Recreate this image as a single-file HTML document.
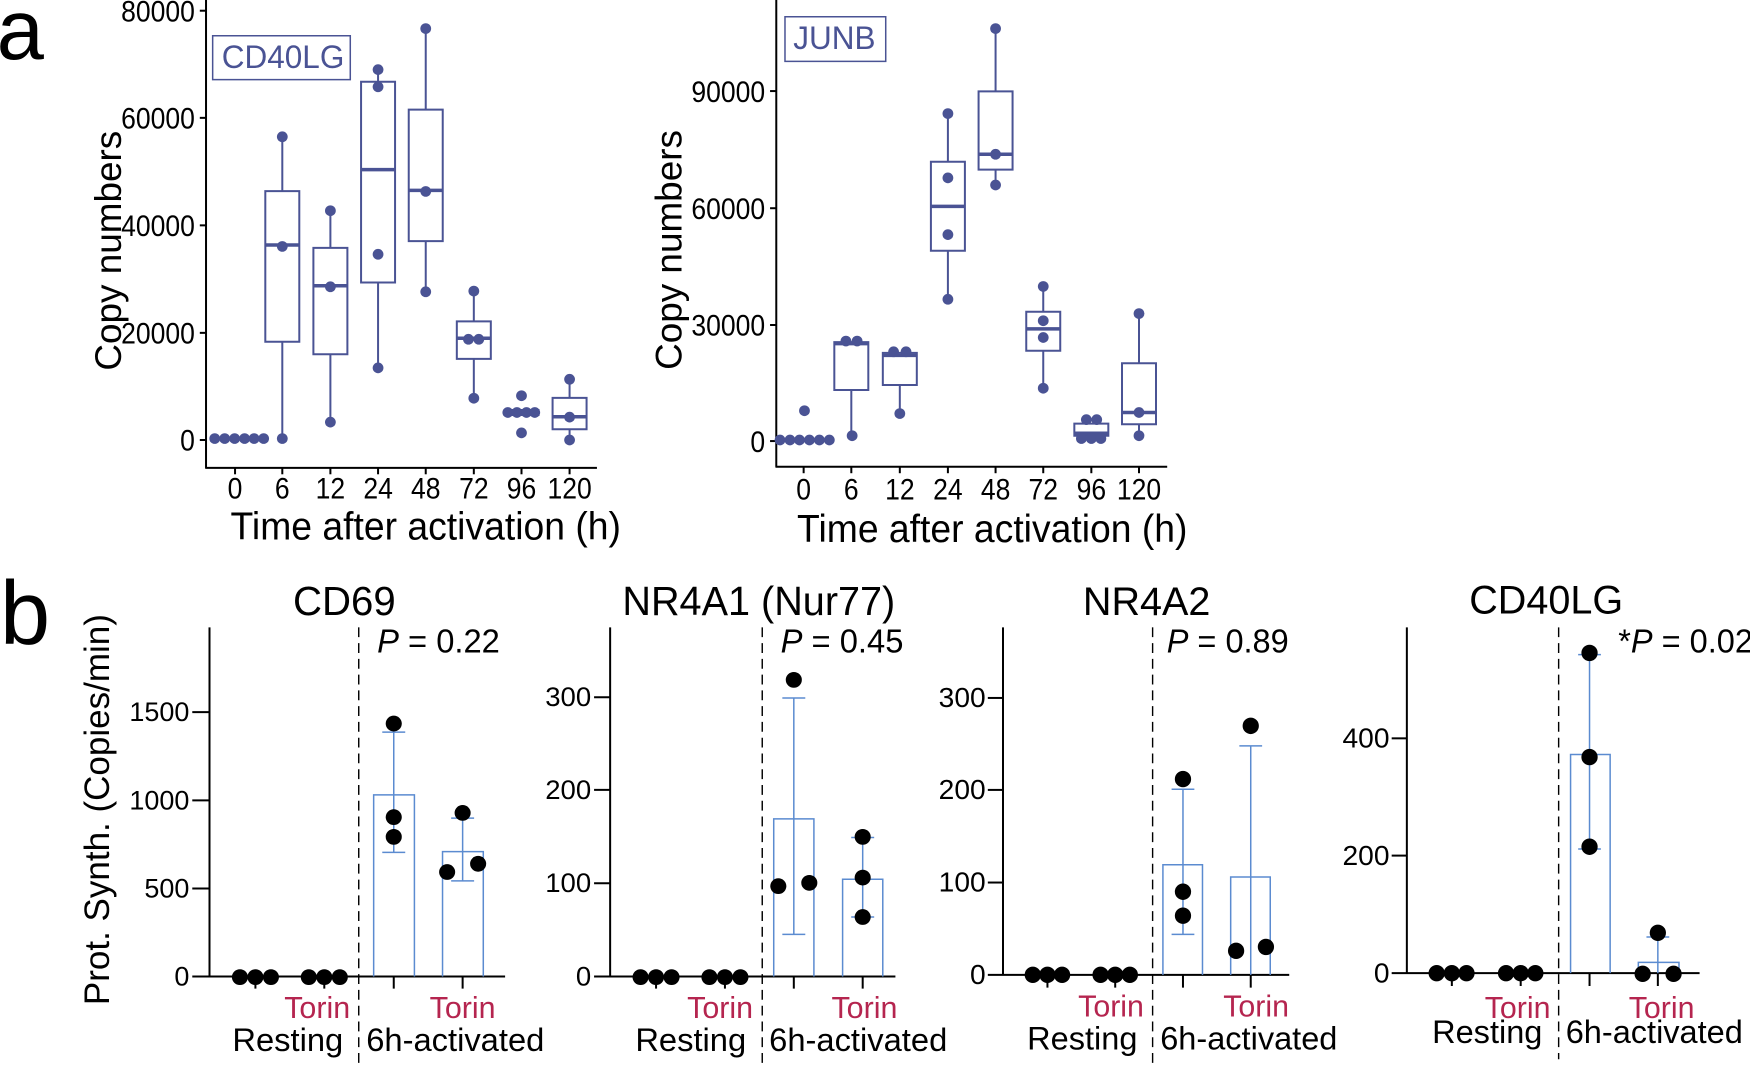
<!DOCTYPE html>
<html><head><meta charset="utf-8"><style>
html,body{margin:0;padding:0;background:#fff;}
#c{position:relative;width:1750px;height:1075px;overflow:hidden;}
svg{position:absolute;overflow:visible;font-family:"Liberation Sans",sans-serif;}
.s{vector-effect:non-scaling-stroke;}
</style></head><body><div id="c">

<!-- Panel a left -->
<svg style="left:0;top:0" width="650" height="560" viewBox="0 0 1568 1568" preserveAspectRatio="none">
<text transform="translate(-8 165) scale(1 1.161)" font-size="205">a</text>
<g stroke="#000" fill="none">
<g stroke-width="2" class="s">
<line class="s" x1="497" y1="0" x2="497" y2="1310"/><line class="s" x1="495" y1="1310" x2="1440" y2="1310"/>
<line class="s" x1="482" y1="30" x2="497" y2="30"/><line class="s" x1="482" y1="330" x2="497" y2="330"/><line class="s" x1="482" y1="631" x2="497" y2="631"/><line class="s" x1="482" y1="932" x2="497" y2="932"/><line class="s" x1="482" y1="1232" x2="497" y2="1232"/>
<line class="s" x1="567" y1="1310" x2="567" y2="1328"/><line class="s" x1="681" y1="1310" x2="681" y2="1328"/><line class="s" x1="797" y1="1310" x2="797" y2="1328"/><line class="s" x1="912" y1="1310" x2="912" y2="1328"/><line class="s" x1="1027" y1="1310" x2="1027" y2="1328"/><line class="s" x1="1143" y1="1310" x2="1143" y2="1328"/><line class="s" x1="1258" y1="1310" x2="1258" y2="1328"/><line class="s" x1="1374" y1="1310" x2="1374" y2="1328"/>
</g></g>
<g font-size="64" text-anchor="end">
<text transform="translate(470 60) scale(1 1.28)">80000</text><text transform="translate(470 360) scale(1 1.28)">60000</text><text transform="translate(470 661) scale(1 1.28)">40000</text><text transform="translate(470 962) scale(1 1.28)">20000</text><text transform="translate(470 1262) scale(1 1.28)">0</text>
</g>
<g font-size="64" text-anchor="middle">
<text transform="translate(567 1396) scale(1 1.28)">0</text><text transform="translate(681 1396) scale(1 1.28)">6</text><text transform="translate(797 1396) scale(1 1.28)">12</text><text transform="translate(912 1396) scale(1 1.28)">24</text><text transform="translate(1027 1396) scale(1 1.28)">48</text><text transform="translate(1143 1396) scale(1 1.28)">72</text><text transform="translate(1258 1396) scale(1 1.28)">96</text><text transform="translate(1374 1396) scale(1 1.28)">120</text>
</g>
<text transform="translate(1027 1510) scale(1 1.2)" font-size="90" text-anchor="middle">Time after activation (h)</text>
<text transform="translate(292 702) scale(1 1.161) rotate(-90)" font-size="89" text-anchor="middle">Copy numbers</text>
<rect class="s" x="513" y="100" width="332" height="123" fill="none" stroke="#4a5394" stroke-width="1.5"/>
<text transform="translate(535 190) scale(1 1.2)" font-size="76" fill="#4a5394">CD40LG</text>
<g stroke="#4a5394" stroke-width="2" fill="none">
<rect class="s" x="640" y="535" width="82" height="422"/><line class="s" x1="681" y1="383" x2="681" y2="535"/><line class="s" x1="681" y1="957" x2="681" y2="1228"/>
<rect class="s" x="756" y="694" width="82" height="298"/><line class="s" x1="797" y1="590" x2="797" y2="694"/><line class="s" x1="797" y1="992" x2="797" y2="1182"/>
<rect class="s" x="871" y="229" width="82" height="562"/><line class="s" x1="912" y1="195" x2="912" y2="229"/><line class="s" x1="912" y1="791" x2="912" y2="1030"/>
<rect class="s" x="986" y="307" width="82" height="368"/><line class="s" x1="1027" y1="80" x2="1027" y2="307"/><line class="s" x1="1027" y1="675" x2="1027" y2="817"/>
<rect class="s" x="1102" y="900" width="82" height="105"/><line class="s" x1="1143" y1="815" x2="1143" y2="900"/><line class="s" x1="1143" y1="1005" x2="1143" y2="1115"/>
<rect class="s" x="1217" y="1148" width="82" height="14"/>
<rect class="s" x="1333" y="1114" width="82" height="88"/><line class="s" x1="1374" y1="1062" x2="1374" y2="1114"/><line class="s" x1="1374" y1="1202" x2="1374" y2="1232"/>
</g>
<g stroke="#4a5394" stroke-width="3.5">
<line class="s" x1="640" y1="686" x2="722" y2="686"/><line class="s" x1="756" y1="800" x2="838" y2="800"/><line class="s" x1="871" y1="475" x2="953" y2="475"/><line class="s" x1="986" y1="533" x2="1068" y2="533"/><line class="s" x1="1102" y1="947" x2="1184" y2="947"/><line class="s" x1="1217" y1="1155" x2="1299" y2="1155"/><line class="s" x1="1333" y1="1167" x2="1415" y2="1167"/>
</g>
<g fill="#4a5394">
<ellipse cx="518" cy="1228" rx="13" ry="15"/><ellipse cx="542" cy="1228" rx="13" ry="15"/><ellipse cx="566" cy="1228" rx="13" ry="15"/><ellipse cx="590" cy="1228" rx="13" ry="15"/><ellipse cx="613" cy="1228" rx="13" ry="15"/><ellipse cx="636" cy="1228" rx="13" ry="15"/>
<ellipse cx="681" cy="383" rx="13" ry="15"/><ellipse cx="681" cy="690" rx="13" ry="15"/><ellipse cx="681" cy="1228" rx="13" ry="15"/>
<ellipse cx="797" cy="590" rx="13" ry="15"/><ellipse cx="797" cy="803" rx="13" ry="15"/><ellipse cx="797" cy="1182" rx="13" ry="15"/>
<ellipse cx="912" cy="195" rx="13" ry="15"/><ellipse cx="912" cy="243" rx="13" ry="15"/><ellipse cx="912" cy="712" rx="13" ry="15"/><ellipse cx="912" cy="1030" rx="13" ry="15"/>
<ellipse cx="1027" cy="80" rx="13" ry="15"/><ellipse cx="1027" cy="536" rx="13" ry="15"/><ellipse cx="1027" cy="817" rx="13" ry="15"/>
<ellipse cx="1143" cy="815" rx="13" ry="15"/><ellipse cx="1130" cy="950" rx="13" ry="15"/><ellipse cx="1155" cy="950" rx="13" ry="15"/><ellipse cx="1143" cy="1115" rx="13" ry="15"/>
<ellipse cx="1258" cy="1108" rx="13" ry="15"/><ellipse cx="1225" cy="1155" rx="13" ry="15"/><ellipse cx="1247" cy="1155" rx="13" ry="15"/><ellipse cx="1270" cy="1155" rx="13" ry="15"/><ellipse cx="1290" cy="1155" rx="13" ry="15"/><ellipse cx="1258" cy="1212" rx="13" ry="15"/>
<ellipse cx="1374" cy="1062" rx="13" ry="15"/><ellipse cx="1374" cy="1168" rx="13" ry="15"/><ellipse cx="1374" cy="1232" rx="13" ry="15"/>
</g>
</svg>

<!-- Panel a right (JUNB) -->
<svg style="left:620px;top:0" width="650" height="560" viewBox="0 0 1568 1568" preserveAspectRatio="none">
<g stroke="#000" stroke-width="2" fill="none">
<line class="s" x1="377" y1="0" x2="377" y2="1307"/><line class="s" x1="375" y1="1307" x2="1320" y2="1307"/>
<line class="s" x1="362" y1="255" x2="377" y2="255"/><line class="s" x1="362" y1="583" x2="377" y2="583"/><line class="s" x1="362" y1="910" x2="377" y2="910"/><line class="s" x1="362" y1="1235" x2="377" y2="1235"/>
<line class="s" x1="443" y1="1307" x2="443" y2="1325"/><line class="s" x1="558" y1="1307" x2="558" y2="1325"/><line class="s" x1="675" y1="1307" x2="675" y2="1325"/><line class="s" x1="791" y1="1307" x2="791" y2="1325"/><line class="s" x1="906" y1="1307" x2="906" y2="1325"/><line class="s" x1="1021" y1="1307" x2="1021" y2="1325"/><line class="s" x1="1137" y1="1307" x2="1137" y2="1325"/><line class="s" x1="1252" y1="1307" x2="1252" y2="1325"/>
</g>
<g font-size="64" text-anchor="end">
<text transform="translate(350 285) scale(1 1.28)">90000</text><text transform="translate(350 613) scale(1 1.28)">60000</text><text transform="translate(350 940) scale(1 1.28)">30000</text><text transform="translate(350 1265) scale(1 1.28)">0</text>
</g>
<g font-size="64" text-anchor="middle">
<text transform="translate(443 1398) scale(1 1.28)">0</text><text transform="translate(558 1398) scale(1 1.28)">6</text><text transform="translate(675 1398) scale(1 1.28)">12</text><text transform="translate(791 1398) scale(1 1.28)">24</text><text transform="translate(906 1398) scale(1 1.28)">48</text><text transform="translate(1021 1398) scale(1 1.28)">72</text><text transform="translate(1137 1398) scale(1 1.28)">96</text><text transform="translate(1252 1398) scale(1 1.28)">120</text>
</g>
<text transform="translate(898 1518) scale(1 1.2)" font-size="90" text-anchor="middle">Time after activation (h)</text>
<text transform="translate(148 700) scale(1 1.161) rotate(-90)" font-size="89" text-anchor="middle">Copy numbers</text>
<rect class="s" x="398" y="47" width="243" height="125" fill="none" stroke="#4a5394" stroke-width="1.5"/>
<text transform="translate(418 137) scale(1 1.2)" font-size="76" fill="#4a5394">JUNB</text>
<g stroke="#4a5394" stroke-width="2" fill="none">
<rect class="s" x="517" y="958" width="82" height="134"/><line class="s" x1="558" y1="1092" x2="558" y2="1220"/>
<rect class="s" x="634" y="988" width="82" height="90"/><line class="s" x1="675" y1="1078" x2="675" y2="1158"/>
<rect class="s" x="750" y="453" width="82" height="249"/><line class="s" x1="791" y1="318" x2="791" y2="453"/><line class="s" x1="791" y1="702" x2="791" y2="838"/>
<rect class="s" x="865" y="256" width="82" height="219"/><line class="s" x1="906" y1="80" x2="906" y2="256"/><line class="s" x1="906" y1="475" x2="906" y2="518"/>
<rect class="s" x="980" y="873" width="82" height="109"/><line class="s" x1="1021" y1="802" x2="1021" y2="873"/><line class="s" x1="1021" y1="982" x2="1021" y2="1087"/>
<rect class="s" x="1096" y="1186" width="82" height="34"/>
<rect class="s" x="1211" y="1017" width="82" height="171"/><line class="s" x1="1252" y1="878" x2="1252" y2="1017"/><line class="s" x1="1252" y1="1188" x2="1252" y2="1220"/>
</g>
<g stroke="#4a5394" stroke-width="3.5">
<line class="s" x1="517" y1="962" x2="599" y2="962"/><line class="s" x1="634" y1="995" x2="716" y2="995"/><line class="s" x1="750" y1="578" x2="832" y2="578"/><line class="s" x1="865" y1="432" x2="947" y2="432"/><line class="s" x1="980" y1="921" x2="1062" y2="921"/><line class="s" x1="1096" y1="1213" x2="1178" y2="1213"/><line class="s" x1="1211" y1="1155" x2="1293" y2="1155"/>
</g>
<g fill="#4a5394">
<ellipse cx="386" cy="1232" rx="13" ry="15"/><ellipse cx="410" cy="1232" rx="13" ry="15"/><ellipse cx="433" cy="1232" rx="13" ry="15"/><ellipse cx="457" cy="1232" rx="13" ry="15"/><ellipse cx="481" cy="1232" rx="13" ry="15"/><ellipse cx="505" cy="1232" rx="13" ry="15"/><ellipse cx="445" cy="1150" rx="13" ry="15"/>
<ellipse cx="545" cy="955" rx="13" ry="15"/><ellipse cx="572" cy="955" rx="13" ry="15"/><ellipse cx="560" cy="1220" rx="13" ry="15"/>
<ellipse cx="660" cy="985" rx="13" ry="15"/><ellipse cx="690" cy="985" rx="13" ry="15"/><ellipse cx="675" cy="1158" rx="13" ry="15"/>
<ellipse cx="791" cy="318" rx="13" ry="15"/><ellipse cx="791" cy="498" rx="13" ry="15"/><ellipse cx="791" cy="657" rx="13" ry="15"/><ellipse cx="791" cy="838" rx="13" ry="15"/>
<ellipse cx="906" cy="80" rx="13" ry="15"/><ellipse cx="906" cy="432" rx="13" ry="15"/><ellipse cx="906" cy="518" rx="13" ry="15"/>
<ellipse cx="1021" cy="802" rx="13" ry="15"/><ellipse cx="1021" cy="898" rx="13" ry="15"/><ellipse cx="1021" cy="945" rx="13" ry="15"/><ellipse cx="1021" cy="1087" rx="13" ry="15"/>
<ellipse cx="1125" cy="1175" rx="13" ry="15"/><ellipse cx="1150" cy="1175" rx="13" ry="15"/><ellipse cx="1113" cy="1228" rx="13" ry="15"/><ellipse cx="1137" cy="1228" rx="13" ry="15"/><ellipse cx="1160" cy="1228" rx="13" ry="15"/>
<ellipse cx="1252" cy="878" rx="13" ry="15"/><ellipse cx="1252" cy="1155" rx="13" ry="15"/><ellipse cx="1252" cy="1220" rx="13" ry="15"/>
</g>
</svg>

<!-- Panel b left (CD69, NR4A1) -->
<svg style="left:0;top:560px" width="900" height="515" viewBox="0 0 1568 1568" preserveAspectRatio="none">
<text transform="translate(0 255) scale(1 1.748)" font-size="157">b</text>
<text transform="translate(190 760) scale(1 1.748) rotate(-90)" font-size="61" text-anchor="middle">Prot. Synth. (Copies/min)</text>
<!-- CD69 -->
<text transform="translate(600 168) scale(1 1.78)" font-size="70" text-anchor="middle">CD69</text>
<text transform="translate(657 282) scale(1 1.78)" font-size="57"><tspan font-style="italic">P</tspan> = 0.22</text>
<g stroke="#000" stroke-width="2" fill="none">
<line class="s" x1="365" y1="205" x2="365" y2="1270"/><line class="s" x1="335" y1="1268" x2="880" y2="1268"/>
<line class="s" x1="335" y1="1000" x2="365" y2="1000"/><line class="s" x1="335" y1="732" x2="365" y2="732"/><line class="s" x1="335" y1="463" x2="365" y2="463"/>
<line class="s" x1="445" y1="1268" x2="445" y2="1305"/><line class="s" x1="565" y1="1268" x2="565" y2="1305"/><line class="s" x1="686" y1="1268" x2="686" y2="1305"/><line class="s" x1="806" y1="1268" x2="806" y2="1305"/>
</g>
<line x1="625" y1="205" x2="625" y2="1545" stroke="#000" stroke-width="2.5" stroke-dasharray="30,18"/>
<g font-size="47" text-anchor="end">
<text transform="translate(330 1295) scale(1 1.72)">0</text><text transform="translate(330 1027) scale(1 1.72)">500</text><text transform="translate(330 759) scale(1 1.72)">1000</text><text transform="translate(330 490) scale(1 1.72)">1500</text>
</g>
<g stroke="#5b8bd0" stroke-width="1.5" fill="none">
<polyline class="s" points="651,1268 651,715 722,715 722,1268"/><line class="s" x1="686" y1="524" x2="686" y2="890"/><line class="s" x1="666" y1="524" x2="706" y2="524"/><line class="s" x1="666" y1="890" x2="706" y2="890"/>
<polyline class="s" points="771,1268 771,888 842,888 842,1268"/><line class="s" x1="806" y1="786" x2="806" y2="977"/><line class="s" x1="786" y1="786" x2="826" y2="786"/><line class="s" x1="786" y1="977" x2="826" y2="977"/>
</g>
<g fill="#000">
<ellipse cx="418" cy="1270" rx="14" ry="24"/><ellipse cx="445" cy="1270" rx="14" ry="24"/><ellipse cx="472" cy="1270" rx="14" ry="24"/><ellipse cx="538" cy="1270" rx="14" ry="24"/><ellipse cx="565" cy="1270" rx="14" ry="24"/><ellipse cx="592" cy="1270" rx="14" ry="24"/>
<ellipse cx="686" cy="498" rx="14" ry="24"/><ellipse cx="686" cy="783" rx="14" ry="24"/><ellipse cx="686" cy="843" rx="14" ry="24"/>
<ellipse cx="779" cy="950" rx="14" ry="24"/><ellipse cx="806" cy="770" rx="14" ry="24"/><ellipse cx="833" cy="925" rx="14" ry="24"/>
</g>
<text transform="translate(610 1395) scale(1 1.75)" font-size="53" fill="#b5254f" text-anchor="end">Torin</text>
<text transform="translate(806 1395) scale(1 1.75)" font-size="53" fill="#b5254f" text-anchor="middle">Torin</text>
<text transform="translate(598 1495) scale(1 1.75)" font-size="57" text-anchor="end">Resting</text>
<text transform="translate(638 1495) scale(1 1.75)" font-size="57">6h-activated</text>
<!-- NR4A1 -->
<text transform="translate(1322 168) scale(1 1.78)" font-size="69" text-anchor="middle">NR4A1 (Nur77)</text>
<text transform="translate(1360 282) scale(1 1.78)" font-size="57"><tspan font-style="italic">P</tspan> = 0.45</text>
<g stroke="#000" stroke-width="2" fill="none">
<line class="s" x1="1063" y1="205" x2="1063" y2="1270"/><line class="s" x1="1035" y1="1268" x2="1560" y2="1268"/>
<line class="s" x1="1035" y1="984" x2="1063" y2="984"/><line class="s" x1="1035" y1="700" x2="1063" y2="700"/><line class="s" x1="1035" y1="418" x2="1063" y2="418"/>
<line class="s" x1="1143" y1="1268" x2="1143" y2="1305"/><line class="s" x1="1263" y1="1268" x2="1263" y2="1305"/><line class="s" x1="1383" y1="1268" x2="1383" y2="1305"/><line class="s" x1="1503" y1="1268" x2="1503" y2="1305"/>
</g>
<line x1="1328" y1="205" x2="1328" y2="1545" stroke="#000" stroke-width="2.5" stroke-dasharray="30,18"/>
<g font-size="48" text-anchor="end">
<text transform="translate(1030 1295) scale(1 1.72)">0</text><text transform="translate(1030 1011) scale(1 1.72)">100</text><text transform="translate(1030 727) scale(1 1.72)">200</text><text transform="translate(1030 445) scale(1 1.72)">300</text>
</g>
<g stroke="#5b8bd0" stroke-width="1.5" fill="none">
<polyline class="s" points="1348,1268 1348,788 1418,788 1418,1268"/><line class="s" x1="1383" y1="420" x2="1383" y2="1140"/><line class="s" x1="1363" y1="420" x2="1403" y2="420"/><line class="s" x1="1363" y1="1140" x2="1403" y2="1140"/>
<polyline class="s" points="1468,1268 1468,972 1538,972 1538,1268"/><line class="s" x1="1503" y1="845" x2="1503" y2="1087"/><line class="s" x1="1483" y1="845" x2="1523" y2="845"/><line class="s" x1="1483" y1="1087" x2="1523" y2="1087"/>
</g>
<g fill="#000">
<ellipse cx="1116" cy="1270" rx="14" ry="24"/><ellipse cx="1143" cy="1270" rx="14" ry="24"/><ellipse cx="1170" cy="1270" rx="14" ry="24"/><ellipse cx="1236" cy="1270" rx="14" ry="24"/><ellipse cx="1263" cy="1270" rx="14" ry="24"/><ellipse cx="1290" cy="1270" rx="14" ry="24"/>
<ellipse cx="1383" cy="365" rx="14" ry="24"/><ellipse cx="1356" cy="993" rx="14" ry="24"/><ellipse cx="1410" cy="983" rx="14" ry="24"/>
<ellipse cx="1503" cy="843" rx="14" ry="24"/><ellipse cx="1503" cy="967" rx="14" ry="24"/><ellipse cx="1503" cy="1087" rx="14" ry="24"/>
</g>
<text transform="translate(1312 1395) scale(1 1.75)" font-size="53" fill="#b5254f" text-anchor="end">Torin</text>
<text transform="translate(1506 1395) scale(1 1.75)" font-size="53" fill="#b5254f" text-anchor="middle">Torin</text>
<text transform="translate(1300 1495) scale(1 1.75)" font-size="57" text-anchor="end">Resting</text>
<text transform="translate(1340 1495) scale(1 1.75)" font-size="57">6h-activated</text>
</svg>

<!-- Panel b right (NR4A2, CD40LG) -->
<svg style="left:900px;top:560px" width="850" height="515" viewBox="0 0 1568 1568" preserveAspectRatio="none">
<!-- NR4A2 -->
<text transform="translate(455 168) scale(1 1.68)" font-size="73" text-anchor="middle">NR4A2</text>
<text transform="translate(492 282) scale(1 1.68)" font-size="60"><tspan font-style="italic">P</tspan> = 0.89</text>
<g stroke="#000" stroke-width="2" fill="none">
<line class="s" x1="190" y1="205" x2="190" y2="1265"/><line class="s" x1="162" y1="1263" x2="718" y2="1263"/>
<line class="s" x1="162" y1="982" x2="190" y2="982"/><line class="s" x1="162" y1="700" x2="190" y2="700"/><line class="s" x1="162" y1="420" x2="190" y2="420"/>
<line class="s" x1="272" y1="1263" x2="272" y2="1302"/><line class="s" x1="397" y1="1263" x2="397" y2="1302"/><line class="s" x1="522" y1="1263" x2="522" y2="1302"/><line class="s" x1="647" y1="1263" x2="647" y2="1302"/>
</g>
<line x1="466" y1="205" x2="466" y2="1540" stroke="#000" stroke-width="2.6" stroke-dasharray="30,18"/>
<g font-size="52" text-anchor="end">
<text transform="translate(158 1291) scale(1 1.62)">0</text><text transform="translate(158 1010) scale(1 1.62)">100</text><text transform="translate(158 728) scale(1 1.62)">200</text><text transform="translate(158 448) scale(1 1.62)">300</text>
</g>
<g stroke="#5b8bd0" stroke-width="1.5" fill="none">
<polyline class="s" points="485,1263 485,928 558,928 558,1263"/><line class="s" x1="522" y1="698" x2="522" y2="1140"/><line class="s" x1="501" y1="698" x2="543" y2="698"/><line class="s" x1="501" y1="1140" x2="543" y2="1140"/>
<polyline class="s" points="610,1263 610,965 683,965 683,1263"/><line class="s" x1="647" y1="566" x2="647" y2="1263"/><line class="s" x1="626" y1="566" x2="668" y2="566"/>
</g>
<g fill="#000">
<ellipse cx="245" cy="1263" rx="15" ry="25"/><ellipse cx="272" cy="1263" rx="15" ry="25"/><ellipse cx="299" cy="1263" rx="15" ry="25"/><ellipse cx="370" cy="1263" rx="15" ry="25"/><ellipse cx="397" cy="1263" rx="15" ry="25"/><ellipse cx="424" cy="1263" rx="15" ry="25"/>
<ellipse cx="522" cy="667" rx="15" ry="25"/><ellipse cx="522" cy="1010" rx="15" ry="25"/><ellipse cx="522" cy="1083" rx="15" ry="25"/>
<ellipse cx="647" cy="505" rx="15" ry="25"/><ellipse cx="620" cy="1190" rx="15" ry="25"/><ellipse cx="675" cy="1178" rx="15" ry="25"/>
</g>
<text transform="translate(450 1390) scale(1 1.65)" font-size="56" fill="#b5254f" text-anchor="end">Torin</text>
<text transform="translate(657 1390) scale(1 1.65)" font-size="56" fill="#b5254f" text-anchor="middle">Torin</text>
<text transform="translate(438 1490) scale(1 1.65)" font-size="60" text-anchor="end">Resting</text>
<text transform="translate(480 1490) scale(1 1.65)" font-size="60">6h-activated</text>
<!-- CD40LG -->
<text transform="translate(1192 163) scale(1 1.68)" font-size="73" text-anchor="middle">CD40LG</text>
<text transform="translate(1325 282) scale(1 1.68)" font-size="60">*<tspan font-style="italic">P</tspan> = 0.02</text>
<g stroke="#000" stroke-width="2" fill="none">
<line class="s" x1="935" y1="205" x2="935" y2="1260"/><line class="s" x1="907" y1="1258" x2="1475" y2="1258"/>
<line class="s" x1="907" y1="900" x2="935" y2="900"/><line class="s" x1="907" y1="543" x2="935" y2="543"/>
<line class="s" x1="1018" y1="1258" x2="1018" y2="1297"/><line class="s" x1="1145" y1="1258" x2="1145" y2="1297"/><line class="s" x1="1272" y1="1258" x2="1272" y2="1297"/><line class="s" x1="1398" y1="1258" x2="1398" y2="1297"/>
</g>
<line x1="1215" y1="205" x2="1215" y2="1520" stroke="#000" stroke-width="2.6" stroke-dasharray="30,18"/>
<g font-size="52" text-anchor="end">
<text transform="translate(903 1286) scale(1 1.62)">0</text><text transform="translate(903 928) scale(1 1.62)">200</text><text transform="translate(903 571) scale(1 1.62)">400</text>
</g>
<g stroke="#5b8bd0" stroke-width="1.5" fill="none">
<polyline class="s" points="1237,1258 1237,592 1310,592 1310,1258"/><line class="s" x1="1272" y1="288" x2="1272" y2="880"/><line class="s" x1="1251" y1="288" x2="1293" y2="288"/><line class="s" x1="1251" y1="880" x2="1293" y2="880"/>
<polyline class="s" points="1362,1258 1362,1225 1437,1225 1437,1258"/><line class="s" x1="1398" y1="1148" x2="1398" y2="1258"/><line class="s" x1="1377" y1="1148" x2="1419" y2="1148"/>
</g>
<g fill="#000">
<ellipse cx="990" cy="1258" rx="15" ry="25"/><ellipse cx="1018" cy="1258" rx="15" ry="25"/><ellipse cx="1045" cy="1258" rx="15" ry="25"/><ellipse cx="1118" cy="1258" rx="15" ry="25"/><ellipse cx="1145" cy="1258" rx="15" ry="25"/><ellipse cx="1172" cy="1258" rx="15" ry="25"/>
<ellipse cx="1272" cy="283" rx="15" ry="25"/><ellipse cx="1272" cy="600" rx="15" ry="25"/><ellipse cx="1272" cy="873" rx="15" ry="25"/>
<ellipse cx="1398" cy="1135" rx="15" ry="25"/><ellipse cx="1370" cy="1260" rx="15" ry="25"/><ellipse cx="1427" cy="1260" rx="15" ry="25"/>
</g>
<text transform="translate(1200 1395) scale(1 1.65)" font-size="56" fill="#b5254f" text-anchor="end">Torin</text>
<text transform="translate(1405 1395) scale(1 1.65)" font-size="56" fill="#b5254f" text-anchor="middle">Torin</text>
<text transform="translate(1185 1470) scale(1 1.65)" font-size="60" text-anchor="end">Resting</text>
<text transform="translate(1228 1470) scale(1 1.65)" font-size="60">6h-activated</text>
</svg>

</div></body></html>
